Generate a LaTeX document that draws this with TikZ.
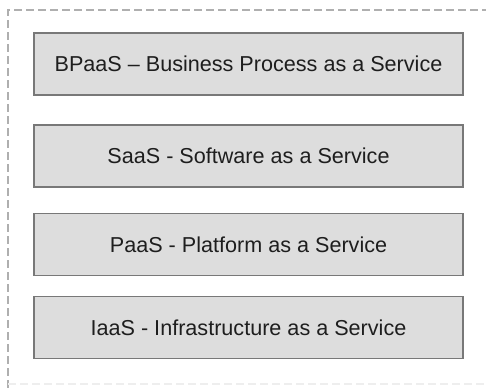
\documentclass[tikz,border=0pt]{standalone}
\usepackage{fontspec}
\setmainfont{Liberation Sans}
\usetikzlibrary{positioning}
\definecolor{layerfill}{RGB}{221, 221, 221}
\definecolor{layerdraw}{RGB}{120, 120, 120}
\definecolor{layertext}{RGB}{30, 30, 30}
\definecolor{framegray}{RGB}{175, 175, 175}
\definecolor{framefaint}{RGB}{238, 238, 238}

\begin{document}
\begin{tikzpicture}[
  x=0.75pt, y=-0.75pt, font=\fontsize{16.2}{19}\selectfont,
  every node/.style={inner sep=2pt},
  layer/.style={draw=layerdraw, line width=1.1pt, fill=layerfill, text=layertext, minimum width=321.75pt, minimum height=46.5pt},
  frame/.style={framegray, line width=1.5pt, dash pattern=on 6pt off 3pt}
]
\useasboundingbox (0,0) rectangle (486,388);
% dashed outer frame
\draw[frame] (8,388) -- (8,10) -- (486,10);
\draw[framefaint, line width=1.5pt, dash pattern=on 6pt off 3pt] (8,384) -- (486,384);
% service layers
\node[layer] (bpaas) at (248.5, 64.0) {BPaaS -- Business Process as a Service};
\node[layer] (saas) at (248.5, 156.0) {SaaS - Software as a Service};
\node[layer] (paas) at (248.5, 244.5) {PaaS - Platform as a Service};
\node[layer] (iaas) at (248.5, 327.5) {IaaS - Infrastructure as a Service};
\end{tikzpicture}
\end{document}
